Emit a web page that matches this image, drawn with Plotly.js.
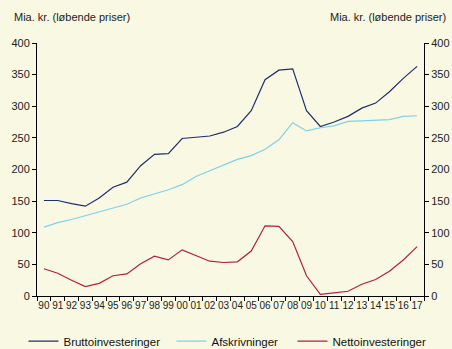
<!DOCTYPE html>
<html>
<head>
<meta charset="utf-8">
<script src="https://cdn.plot.ly/plotly-3.0.1.min.js"></script>
<style>
  html, body { margin: 0; padding: 0; background: #f9f8e2; }
  #chart { width: 452px; height: 349px; }
</style>
</head>
<body>
<div id="chart"></div>
<script>
// Years 1990–2017, shown as two-digit labels
const years = ["90","91","92","93","94","95","96","97","98","99","00","01","02","03",
               "04","05","06","07","08","09","10","11","12","13","14","15","16","17"];

// Mia. kr., løbende priser
const brutto = [151, 151, 146, 142, 155, 172, 180, 206, 224, 225, 249, 251, 253, 259,
                268, 293, 342, 357, 359, 293, 268, 275, 284, 297, 305, 323, 344, 363];
const afskrivninger = [109, 116, 121, 127, 134, 140, 145, 155, 161, 168, 176, 189, 198, 207,
                       216, 222, 232, 247, 274, 261, 266, 269, 276, 277, 278, 279, 284, 285];
const netto = [43, 36, 25, 15, 20, 32, 35, 51, 63, 57, 73, 64, 55, 53,
               54, 71, 111, 110, 86, 32, 2.5, 5, 7.5, 18.5, 26, 39, 57, 78];

const names = ["Bruttoinvesteringer", "Afskrivninger", "Nettoinvesteringer"];
const colors = ["#1e2f6e", "#7fd0ea", "#b3203f"];
const series = [brutto, afskrivninger, netto];
// width reserved for each legend entry's label
const legendWidths = [103, 76, 100];

const traces = series.map((vals, i) => ({
  type: "scatter",
  mode: "lines",
  x: years,
  y: vals,
  name: names[i],
  legendwidth: legendWidths[i],
  line: { color: colors[i], width: 1.2 },
  hoverinfo: "x+y"
}));

const fontFamily = "Liberation Sans, Arial, sans-serif";
const tickFont = { family: fontFamily, size: 11, color: "#222" };

const valueAxis = {
  range: [0, 400],
  dtick: 50,
  ticks: "outside",
  ticklen: 4,
  tickcolor: "#000",
  showline: true,
  linecolor: "#000",
  linewidth: 1,
  showgrid: false,
  zeroline: false,
  tickfont: tickFont,
  fixedrange: true
};

const layout = {
  width: 452,
  height: 349,
  paper_bgcolor: "#f9f8e2",
  plot_bgcolor: "#f9f8e2",
  margin: { l: 37, r: 28, t: 43, b: 53, autoexpand: false },
  showlegend: true,
  legend: {
    orientation: "h",
    x: -0.035, xanchor: "left",
    y: -0.178, yanchor: "middle",
    font: { family: fontFamily, size: 11.5, color: "#111" },
    bgcolor: "rgba(0,0,0,0)",
    itemwidth: 30,
    tracegroupgap: 0
  },
  xaxis: {
    type: "category",
    range: [-0.5, 27.5],
    tickson: "boundaries",
    ticks: "outside",
    ticklen: 4,
    tickcolor: "#000",
    showline: true,
    linecolor: "#000",
    linewidth: 1,
    showgrid: false,
    zeroline: false,
    tickfont: { family: fontFamily, size: 10, color: "#222" },
    tickangle: 0,
    fixedrange: true
  },
  yaxis: Object.assign({}, valueAxis),
  yaxis2: Object.assign({}, valueAxis, { overlaying: "y", side: "right" }),
  annotations: [
    {
      text: "Mia. kr. (løbende priser)",
      xref: "paper", yref: "paper",
      x: -0.065, y: 1.103, xanchor: "left", yanchor: "middle",
      showarrow: false,
      font: { family: fontFamily, size: 11, color: "#222" }
    },
    {
      text: "Mia. kr. (løbende priser)",
      xref: "paper", yref: "paper",
      x: 1.062, y: 1.103, xanchor: "right", yanchor: "middle",
      showarrow: false,
      font: { family: fontFamily, size: 11, color: "#222" }
    }
  ]
};

// Invisible trace so the right-hand axis is bound to data as well
traces.push({
  type: "scatter", mode: "lines", x: years, y: brutto, yaxis: "y2",
  line: { width: 0 }, showlegend: false, hoverinfo: "skip", opacity: 0
});

Plotly.newPlot("chart", traces, layout, { displayModeBar: false, staticPlot: true });
</script>
</body>
</html>
